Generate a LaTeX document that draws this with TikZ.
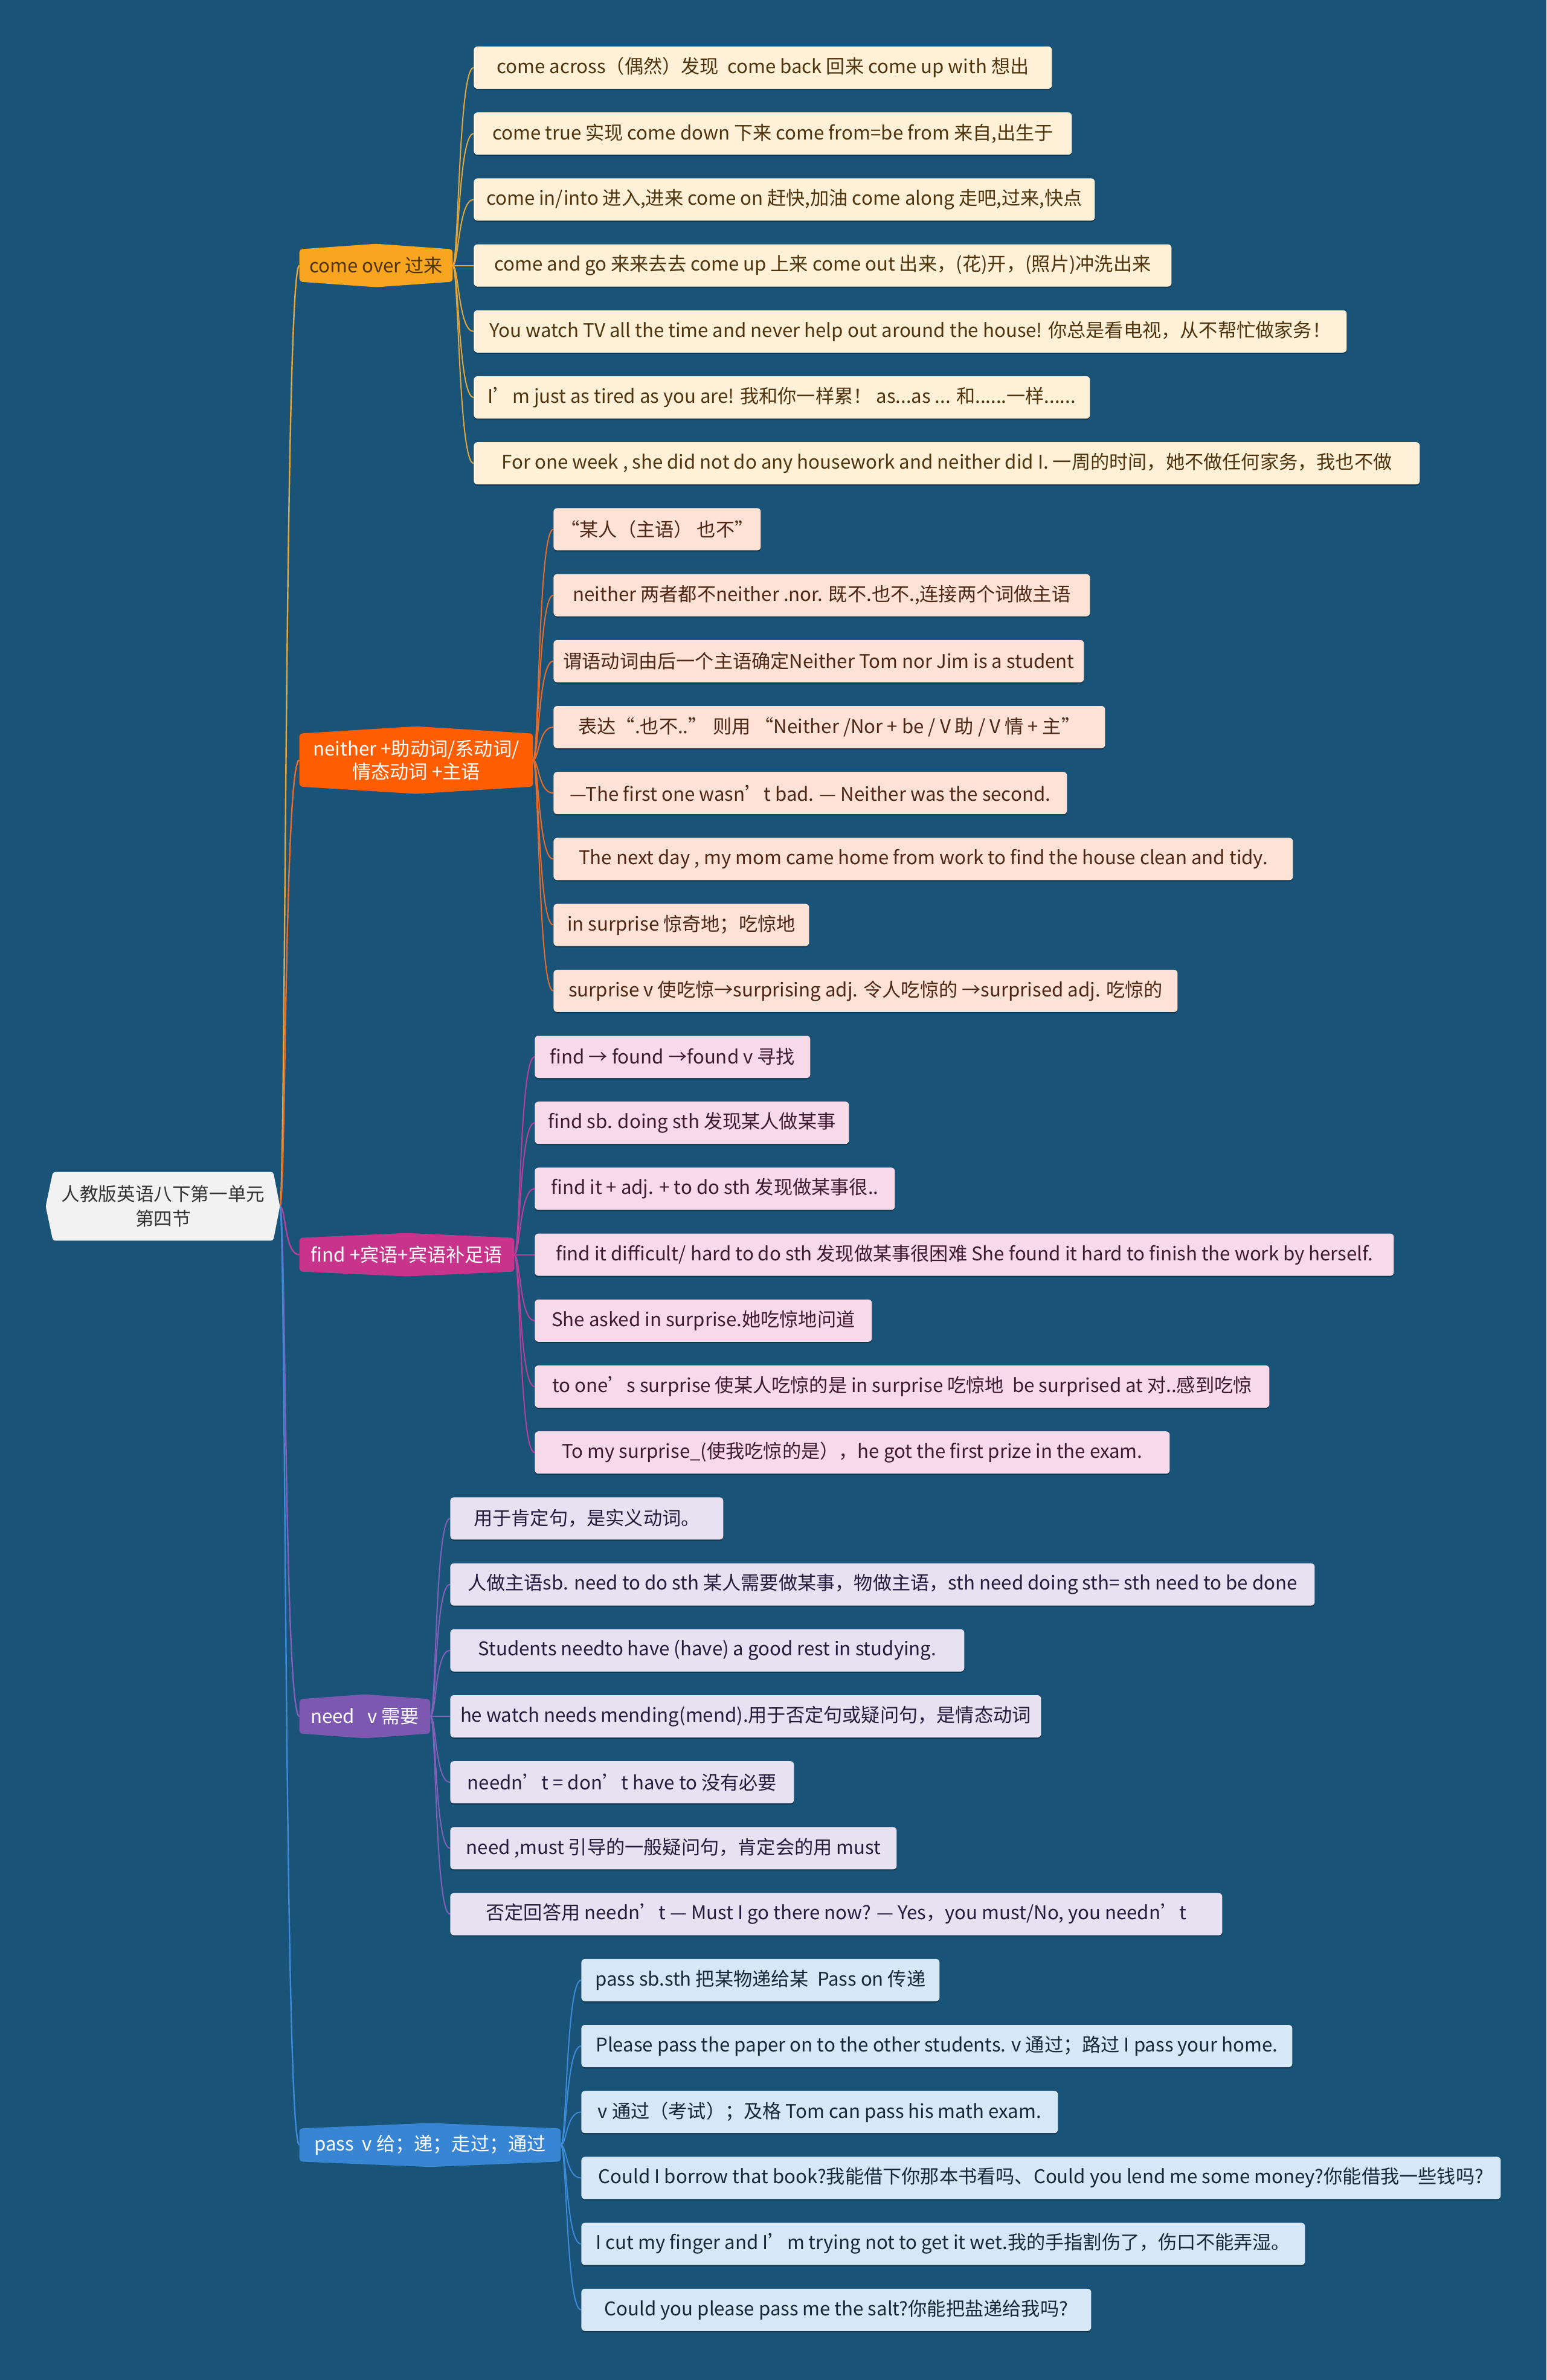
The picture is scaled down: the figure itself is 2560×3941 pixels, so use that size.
\documentclass[tikz,border=0pt]{standalone}
\usepackage{fontspec}
\setmainfont{Noto Sans CJK SC}
\usetikzlibrary{shadows}
\pgfdeclarelayer{bglayer}
\pgfdeclarelayer{lines}
\pgfdeclarelayer{shapes}
\pgfsetlayers{bglayer,lines,shapes,main}
\definecolor{bgc}{HTML}{195378}
\definecolor{rootfill}{HTML}{F2F2F2}
\definecolor{roottext}{HTML}{333333}
% branch fills
\definecolor{bA}{HTML}{F8A61F}
\definecolor{bB}{HTML}{FE5D02}
\definecolor{bC}{HTML}{C8348C}
\definecolor{bD}{HTML}{7C58B1}
\definecolor{bE}{HTML}{3886D3}
% leaf fills
\definecolor{fA}{HTML}{FEF1D7}
\definecolor{fB}{HTML}{FDE2D5}
\definecolor{fC}{HTML}{F7DAEA}
\definecolor{fD}{HTML}{E7E1F1}
\definecolor{fE}{HTML}{D6E8F5}
% leaf texts
\definecolor{tA}{HTML}{4F330D}
\definecolor{tB}{HTML}{4D2616}
\definecolor{tC}{HTML}{3D1A30}
\definecolor{tD}{HTML}{241C3A}
\definecolor{tE}{HTML}{142838}
% lines
\definecolor{lA}{HTML}{E2A63A}
\definecolor{lB}{HTML}{EA6A2A}
\definecolor{lC}{HTML}{B8409A}
\definecolor{lD}{HTML}{8060B8}
\definecolor{lE}{HTML}{3C8AD8}
\newcommand\hexTB[3]{\begin{pgfonlayer}{shapes}\fill[#2, rounded corners=2.5pt] (#1.north west) -- ([yshift=#3]#1.north) -- (#1.north east) -- (#1.south east) -- ([yshift=-#3]#1.south) -- (#1.south west) -- cycle;\end{pgfonlayer}}
\begin{document}
\begin{tikzpicture}[x=0.5pt,y=-0.5pt,
  every node/.style={font=\fontsize{15.6pt}{19pt}\selectfont, inner sep=0pt, align=center},
  leaf/.style={rounded corners=3pt, minimum height=35pt, anchor=west,
    drop shadow={shadow xshift=0pt,shadow yshift=-1pt,opacity=0.35,fill=black}},
  leafA/.style={leaf, fill=fA, text=tA},
  leafB/.style={leaf, fill=fB, text=tB},
  leafC/.style={leaf, fill=fC, text=tC},
  leafD/.style={leaf, fill=fD, text=tD},
  leafE/.style={leaf, fill=fE, text=tE},
  branch/.style={text=white},
  conn/.style={line width=1pt},
  rconn/.style={line width=1.2pt}
]
\begin{pgfonlayer}{bglayer}
\fill[bgc] (0,0) rectangle (2560,3941);
\end{pgfonlayer}
\useasboundingbox (0,0) rectangle (2560,3941);

% root
\node[text=roottext, minimum width=182pt, minimum height=56.5pt, font=\fontsize{15.3pt}{20.5pt}\selectfont] (root) at (270,1997.5) {人教版英语八下第一单元\\第四节};
\begin{pgfonlayer}{shapes}
\fill[rootfill, rounded corners=2pt] (root.north west) -- (root.north east) -- ([xshift=5.5pt]root.east) -- (root.south east) -- (root.south west) -- ([xshift=-6pt]root.west) -- cycle;
\end{pgfonlayer}
\coordinate (rootR) at ([xshift=5.5pt]root.east);

% branches
\node[branch, text=tA, minimum width=126.5pt, minimum height=26.5pt] (come) at (622.5,439.6) {come over 过来};
\hexTB{come}{bA}{4.5pt}
\node[branch, minimum width=193pt, minimum height=43.5pt] (neith) at (689,1258.6) {neither +助动词/系动词/\\情态动词 +主语};
\hexTB{neith}{bB}{6pt}
\node[branch, minimum width=177.5pt, minimum height=27.5pt] (find) at (673.5,2077.6) {find +宾语+宾语补足语};
\hexTB{find}{bC}{4pt}
\node[branch, minimum width=108pt, minimum height=28pt] (need) at (604,2842) {need\ \ \ v 需要};
\hexTB{need}{bD}{4pt}
\node[branch, minimum width=216pt, minimum height=27pt] (pass) at (712,3551.8) {pass\ \ v 给；递；走过；通过};
\hexTB{pass}{bE}{4.5pt}

% come over leaves
\node[leafA, minimum width=478.5pt] (c1) at (784,112) {come across（偶然）发现\ \ come back 回来 come up with 想出};
\node[leafA, minimum width=495pt] (c2) at (784,221.2) {come true 实现 come down 下来 come from=be from 来自,出生于};
\node[leafA, minimum width=514pt] (c3) at (784,330.4) {come in/into 进入,进来 come on 赶快,加油 come along 走吧,过来,快点};
\node[leafA, minimum width=577.5pt] (c4) at (784,439.6) {come and go 来来去去 come up 上来 come out 出来，(花)开，(照片)冲洗出来};
\node[leafA, minimum width=722.5pt] (c5) at (784,548.8) {You watch TV all the time and never help out around the house! 你总是看电视，从不帮忙做家务！};
\node[leafA, minimum width=510pt] (c6) at (784,658) {I’m just as tired as you are! 我和你一样累！ as...as ... 和......一样......};
\node[leafA, minimum width=783pt] (c7) at (784,767.2) {For one week , she did not do any housework and neither did I. 一周的时间，她不做任何家务，我也不做};

% neither leaves
\node[leafB, minimum width=171.5pt] (n1) at (916,876.4) {“某人（主语） 也不”};
\node[leafB, minimum width=444pt] (n2) at (916,985.6) {neither 两者都不neither .nor. 既不.也不.,连接两个词做主语};
\node[leafB, minimum width=439pt] (n3) at (916,1094.8) {谓语动词由后一个主语确定Neither Tom nor Jim is a student};
\node[leafB, minimum width=456.5pt] (n4) at (916,1204) {表达“.也不..” 则用 “Neither /Nor + be / V 助 / V 情 + 主”};
\node[leafB, minimum width=425pt] (n5) at (916,1313.2) {—The first one wasn’t bad. — Neither was the second.};
\node[leafB, minimum width=612pt] (n6) at (916,1422.4) {The next day , my mom came home from work to find the house clean and tidy.};
\node[leafB, minimum width=211.5pt] (n7) at (916,1531.6) {in surprise 惊奇地；吃惊地};
\node[leafB, minimum width=516.5pt] (n8) at (916,1640.8) {surprise v 使吃惊→surprising adj. 令人吃惊的 →surprised adj. 吃惊的};

% find leaves
\node[leafC, minimum width=228pt] (f1) at (885,1750) {find → found →found v 寻找};
\node[leafC, minimum width=260pt] (f2) at (885,1859.2) {find sb. doing sth 发现某人做某事};
\node[leafC, minimum width=298pt] (f3) at (885,1968.4) {find it + adj. + to do sth 发现做某事很..};
\node[leafC, minimum width=711pt] (f4) at (885,2077.6) {find it difficult/ hard to do sth 发现做某事很困难 She found it hard to finish the work by herself.};
\node[leafC, minimum width=279pt] (f5) at (885,2186.8) {She asked in surprise.她吃惊地问道};
\node[leafC, minimum width=608pt] (f6) at (885,2296) {to one’s surprise 使某人吃惊的是 in surprise 吃惊地\ \ be surprised at 对..感到吃惊};
\node[leafC, minimum width=525.5pt] (f7) at (885,2405.2) {To my surprise\_(使我吃惊的是），he got the first prize in the exam.};

% need leaves
\node[leafD, minimum width=226pt] (d1) at (745,2514.4) {用于肯定句，是实义动词。};
\node[leafD, minimum width=715.5pt] (d2) at (745,2623.6) {人做主语sb. need to do sth 某人需要做某事，物做主语，sth need doing sth= sth need to be done};
\node[leafD, minimum width=425.5pt] (d3) at (745,2732.8) {Students needto have (have) a good rest in studying.};
\node[leafD, minimum width=489pt] (d4) at (745,2842) {he watch needs mending(mend).用于否定句或疑问句，是情态动词};
\node[leafD, minimum width=284.5pt] (d5) at (745,2951.2) {needn’t = don’t have to 没有必要};
\node[leafD, minimum width=369.5pt] (d6) at (745,3060.4) {need ,must 引导的一般疑问句，肯定会的用 must};
\node[leafD, minimum width=639pt] (d7) at (745,3169.6) {否定回答用 needn’t — Must I go there now? — Yes，you must/No, you needn’t};

% pass leaves
\node[leafE, minimum width=296.5pt] (p1) at (962,3278.8) {pass sb.sth 把某物递给某\ \ Pass on 传递};
\node[leafE, minimum width=588.5pt] (p2) at (962,3388) {Please pass the paper on to the other students. v 通过；路过 I pass your home.};
\node[leafE, minimum width=394.5pt] (p3) at (962,3497.2) {v 通过（考试）；及格 Tom can pass his math exam.};
\node[leafE, minimum width=761pt] (p4) at (962,3606.4) {Could I borrow that book?我能借下你那本书看吗、Could you lend me some money?你能借我一些钱吗?};
\node[leafE, minimum width=599pt] (p5) at (962,3715.6) {I cut my finger and I’m trying not to get it wet.我的手指割伤了，伤口不能弄湿。};
\node[leafE, minimum width=422pt] (p6) at (962,3824.8) {Could you please pass me the salt?你能把盐递给我吗?};

% connectors
\begin{pgfonlayer}{lines}
\draw[rconn, lA] (rootR) .. controls +(10,0) and +(-25,0) .. (come.west);
\draw[rconn, lB] (rootR) .. controls +(10,0) and +(-25,0) .. (neith.west);
\draw[rconn, lC] (rootR) .. controls +(10,0) and +(-25,0) .. (find.west);
\draw[rconn, lD] (rootR) .. controls +(10,0) and +(-25,0) .. (need.west);
\draw[rconn, lE] (rootR) .. controls +(10,0) and +(-25,0) .. (pass.west);
\foreach \i in {1,...,7} \draw[conn, lA] (come.east) .. controls +(10,0) and +(-25,0) .. (c\i.west);
\foreach \i in {1,...,8} \draw[conn, lB] (neith.east) .. controls +(10,0) and +(-25,0) .. (n\i.west);
\foreach \i in {1,...,7} \draw[conn, lC] (find.east) .. controls +(10,0) and +(-25,0) .. (f\i.west);
\foreach \i in {1,...,7} \draw[conn, lD] (need.east) .. controls +(10,0) and +(-25,0) .. (d\i.west);
\foreach \i in {1,...,6} \draw[conn, lE] (pass.east) .. controls +(10,0) and +(-25,0) .. (p\i.west);
\end{pgfonlayer}
\end{tikzpicture}
\end{document}
